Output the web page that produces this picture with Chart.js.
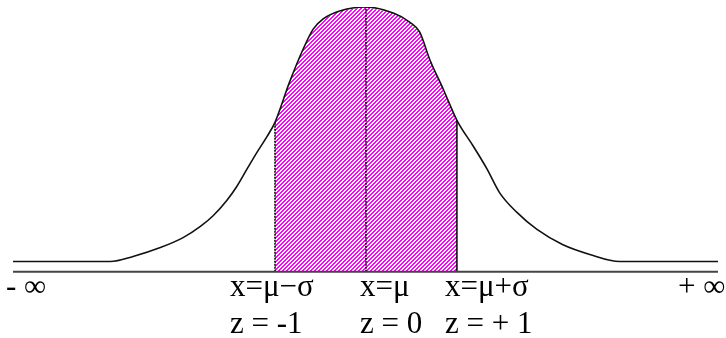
<!DOCTYPE html>
<html>
<head>
<meta charset="utf-8">
<script src="https://cdn.jsdelivr.net/npm/chart.js@4/dist/chart.umd.min.js"></script>
<style>
body { margin: 0; background: #fff; }
</style>
</head>
<body>
<canvas id="normal" width="726" height="338"></canvas>
<script>
// curve: z (in sigma units) and height (peak = 1)
var zPts = [-3.88, -2.81, -2.56, -2.26, -2.01, -1.82, -1.68, -1.53, -1.42, -1.31, -1.20, -1.09, -1.00,
            -0.84, -0.69, -0.58, -0.47, -0.29, 0.00, 0.30, 0.48, 0.59, 0.70, 0.85, 1.00,
            1.18, 1.33, 1.47, 1.66, 1.88, 2.16, 2.46, 2.79, 3.87];
var hPts = [0, 0, 0.02, 0.055, 0.094, 0.138, 0.180, 0.240, 0.295, 0.362, 0.428, 0.490, 0.547,
            0.705, 0.835, 0.913, 0.953, 0.984, 1.0, 0.976, 0.941, 0.902, 0.795, 0.677, 0.555,
            0.453, 0.364, 0.270, 0.193, 0.126, 0.067, 0.028, 0, 0];
var markZ = [-1, 0, 1];
var axisY = -0.04;
var xLabels = ['- \u221e', 'x=\u03bc\u2212\u03c3', 'x=\u03bc', 'x=\u03bc+\u03c3', '+ \u221e'];
var zLabels = ['', 'z = -1', 'z = 0', 'z = + 1', ''];
var labelLeft = [6, 230, 360, 445, 678];

var ctx = document.getElementById('normal').getContext('2d');

function hatch(){
    var c = document.createElement('canvas');
    c.width = 4; c.height = 4;
    var g = c.getContext('2d');
    var img = g.createImageData(4, 4);
    for (var y = 0; y < 4; y++) {
        for (var x = 0; x < 4; x++) {
            var i = (y * 4 + x) * 4;
            var k = (x + y) % 4;
            var col = k < 2 ? [255, 0, 255] : [255, 255, 255];
            img.data[i] = col[0]; img.data[i + 1] = col[1]; img.data[i + 2] = col[2]; img.data[i + 3] = 255;
        }
    }
    g.putImageData(img, 0, 0);
    return ctx.createPattern(c, 'repeat');
}

function heightAt(z){
    for (var i = 0; i < zPts.length; i++) {
        if (zPts[i] == z) return hPts[i];
    }
    return 0;
}

var curve = [];
var shade = [];
for (var i = 0; i < zPts.length; i++) {
    curve.push({x: zPts[i], y: hPts[i]});
    if (zPts[i] >= -1 && zPts[i] <= 1) shade.push({x: zPts[i], y: hPts[i]});
}

var datasets = [];
datasets.push({
    data: shade, showLine: true, pointRadius: 0, borderWidth: 0,
    backgroundColor: hatch(), fill: {value: axisY}, order: 5
});
for (var m = 0; m < markZ.length; m++) {
    datasets.push({
        data: [{x: markZ[m], y: axisY}, {x: markZ[m], y: heightAt(markZ[m])}],
        showLine: true, pointRadius: 0, borderColor: '#000', borderWidth: 1.5,
        borderDash: markZ[m] == 1 ? [] : [2, 1], fill: false, order: 2
    });
}
datasets.push({
    data: curve, showLine: true, pointRadius: 0, borderColor: '#111', borderWidth: 1.6,
    cubicInterpolationMode: 'monotone', fill: false, order: 1
});
datasets.push({
    data: [{x: zPts[0], y: axisY}, {x: zPts[zPts.length - 1], y: axisY}],
    showLine: true, pointRadius: 0, borderColor: '#444', borderWidth: 2, fill: false, order: 0
});

var etiquetas = {
    id: 'etiquetas',
    afterDraw: function(chart){
        var c = chart.ctx;
        c.save();
        c.fillStyle = '#000';
        c.font = '31px "Liberation Serif", "Times New Roman", serif';
        c.textAlign = 'left';
        c.textBaseline = 'alphabetic';
        for (var i = 0; i < xLabels.length; i++) {
            c.fillText(xLabels[i], labelLeft[i], 296);
            if (zLabels[i]) c.fillText(zLabels[i], labelLeft[i], 333);
        }
        c.restore();
    }
};

var myChart = new Chart(ctx, {
    type: 'scatter',
    data: {datasets: datasets},
    options: {
        responsive: false,
        animation: false,
        layout: {padding: {left: 13, right: 8, top: 7, bottom: 65}},
        plugins: {legend: {display: false}, tooltip: {enabled: false}},
        scales: {
            x: {type: 'linear', display: false, min: -3.88, max: 3.87},
            y: {type: 'linear', display: false, min: -0.045, max: 1.0}
        }
    },
    plugins: [etiquetas]
});
</script>
</body>
</html>
